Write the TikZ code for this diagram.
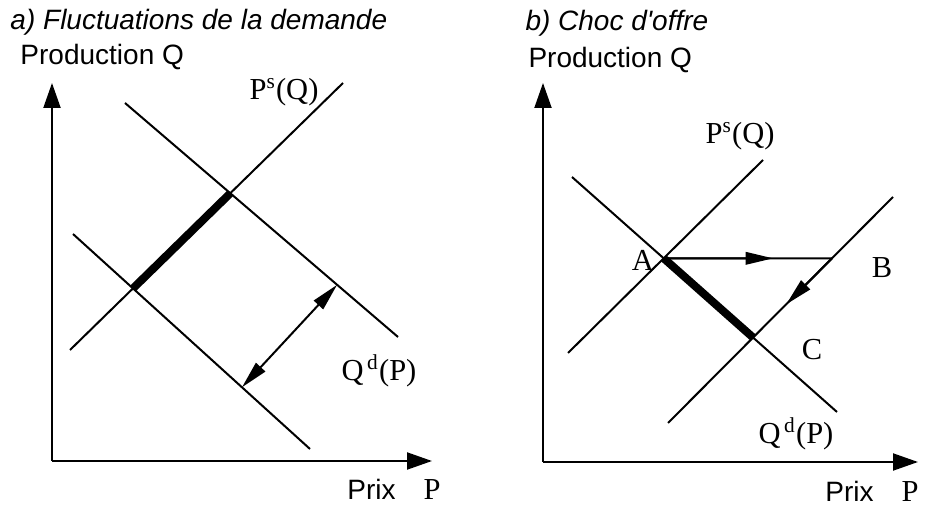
\documentclass[tikz,border=0pt]{standalone}
\usepackage{fontspec}
\setmainfont{Liberation Serif}
\setsansfont{Liberation Sans}
\usetikzlibrary{calc,positioning,arrows.meta}

\begin{document}
\fontsize{11.2}{13.4}\selectfont
\begin{tikzpicture}[x=0.4pt,y=-0.4pt, every node/.style={inner sep=0pt},
  axis/.style={line width=.8pt,-{Triangle[length=10pt,width=6.8pt]}},
  curve/.style={line width=.8pt},
  bold/.style={line width=3.2pt},
  tip/.style={line width=.8pt,-{Triangle[length=11pt,width=5pt]}},
  tips/.style={line width=.8pt,{Triangle[length=11pt,width=5pt]}-{Triangle[length=11pt,width=5pt]}},
  lbl/.style={font=\fontsize{12.2}{14}\selectfont}]
\useasboundingbox (0,0) rectangle (927,505);
% a) demand fluctuations
\coordinate (oa) at (52,461);
\coordinate (ya) at (52,83);
\coordinate (xa) at (432,461);
\draw[axis] (oa) -- (ya);
\draw[axis] (oa) -- (xa);
\coordinate (sa1) at (70,350); \coordinate (sa2) at (343,83);
\coordinate (da1) at (125,103); \coordinate (da2) at (398,337);
\coordinate (db1) at (73,234); \coordinate (db2) at (310,449);
\draw[curve] (sa1) -- (sa2);
\draw[curve] (da1) -- (da2);
\draw[curve] (db1) -- (db2);
\coordinate (ea) at (intersection of sa1--sa2 and da1--da2);
\coordinate (eb) at (intersection of sa1--sa2 and db1--db2);
\draw[bold] (eb) -- (ea);
\coordinate (ua) at ($(da1)!.777!(da2)$);
\coordinate (ub) at ($(db1)!.713!(db2)$);
\draw[tips] (ua) -- (ub);
\node[font=\sffamily\itshape,anchor=west] (ta) at (10,22) {a) Fluctuations de la demande};
\node[font=\sffamily,anchor=west] (qa) at (20,57) {Production Q};
\node[lbl] (psa) at (284,92) {P\textsuperscript{s}(Q)};
\node[lbl] (qda) at (379,371) {Q\textsuperscript{\,d}(P)};
\node (pa) at (394,489) {{\sffamily Prix}\quad{\fontsize{12.2}{14}\selectfont P}};
% b) supply shock
\coordinate (ob) at (543,462);
\coordinate (yb) at (543,83);
\coordinate (xb) at (918,462);
\draw[axis] (ob) -- (yb);
\draw[axis] (ob) -- (xb);
\coordinate (s11) at (568,353); \coordinate (s12) at (763,160);
\coordinate (s21) at (668,423); \coordinate (s22) at (893,197);
\coordinate (d1) at (572,177); \coordinate (d2) at (837,412);
\draw[curve] (s11) -- (s12);
\draw[curve] (s21) -- (s22);
\draw[curve] (d1) -- (d2);
\coordinate (A) at (intersection of s11--s12 and d1--d2);
\coordinate (C) at (intersection of s21--s22 and d1--d2);
\coordinate (B) at (intersection of s21--s22 and A--{$(A)+(10,0)$});
\draw[curve] (A) -- (B);
\draw[bold] (A) -- (C);
\draw[tip] (A) -- ($(A)!.65!(B)$);
\draw[tip] (B) -- ($(B)!.58!(C)$);
\node[lbl] (la) at (643,260) {A};
\node[lbl] (lb) at (882,268) {B};
\node[lbl] (lc) at (812,350) {C};
\node[font=\sffamily\itshape,anchor=west] (tb) at (525,23) {b) Choc d\textquotesingle offre};
\node[font=\sffamily,anchor=west] (qb) at (528,60) {Production Q};
\node[lbl] (psb) at (740,136) {P\textsuperscript{s}(Q)};
\node[lbl] (qdb) at (796,434) {Q\textsuperscript{\,d}(P)};
\node (pb) at (872,491) {{\sffamily Prix}\quad{\fontsize{12.2}{14}\selectfont P}};
\end{tikzpicture}
\end{document}
